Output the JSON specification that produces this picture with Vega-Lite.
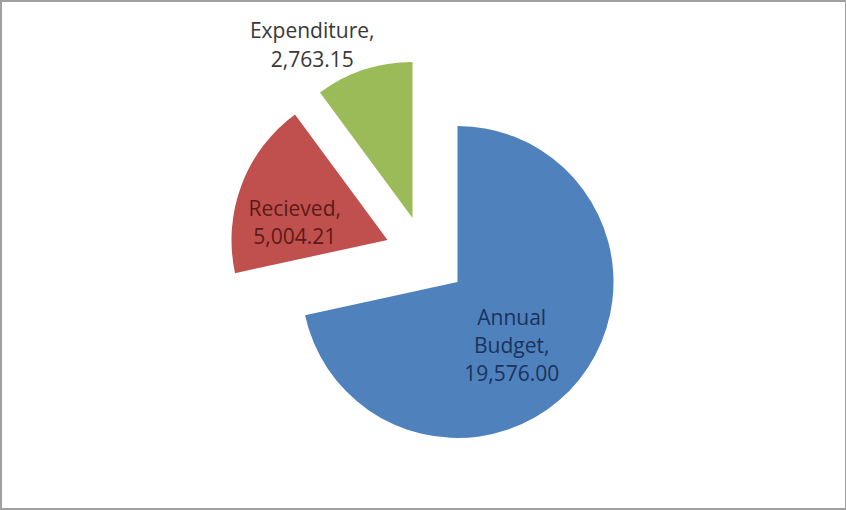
{
  "$schema": "https://vega.github.io/schema/vega-lite/v6.json",
  "width": 846,
  "height": 510,
  "autosize": {"type": "fit", "contains": "padding"},
  "padding": {"left": 1, "top": 1, "right": 0, "bottom": 1},
  "background": "white",
  "view": {"stroke": "#a0a0a0", "strokeWidth": 2},
  "data": {
    "values": [
      {"category": "Annual Budget", "value": 19576.00, "label": "Annual\nBudget,\n19,576.00"},
      {"category": "Recieved", "value": 5004.21, "label": "Recieved,\n5,004.21"},
      {"category": "Expenditure", "value": 2763.15, "label": "Expenditure,\n2,763.15"}
    ]
  },
  "encoding": {
    "theta": {"field": "value", "type": "quantitative", "stack": true},
    "order": {"field": "value", "type": "quantitative", "sort": "descending"}
  },
  "layer": [
    {
      "mark": {"type": "arc", "outerRadius": 156, "xOffset": 34, "yOffset": 27},
      "encoding": {
        "color": {"field": "category", "type": "nominal", "scale": {"domain": ["Annual Budget", "Recieved", "Expenditure"], "range": ["#4f81bd", "#c0504d", "#9bbb59"]}, "legend": null},
        "opacity": {"condition": {"test": "datum.category === 'Annual Budget'", "value": 1}, "value": 0}
      }
    },
    {
      "mark": {"type": "arc", "outerRadius": 156, "xOffset": -36, "yOffset": -15},
      "encoding": {
        "color": {"field": "category", "type": "nominal", "legend": null},
        "opacity": {"condition": {"test": "datum.category === 'Recieved'", "value": 1}, "value": 0}
      }
    },
    {
      "mark": {"type": "arc", "outerRadius": 156, "xOffset": -11, "yOffset": -37},
      "encoding": {
        "color": {"field": "category", "type": "nominal", "legend": null},
        "opacity": {"condition": {"test": "datum.category === 'Expenditure'", "value": 1}, "value": 0}
      }
    },
    {
      "mark": {"type": "text", "radius": 85, "xOffset": 34, "yOffset": 27, "dx": -12, "dy": -16, "lineBreak": "\n", "lineHeight": 28, "font": "Open Sans", "fontSize": 21, "fill": "#1a335c", "align": "center", "baseline": "middle"},
      "encoding": {
        "text": {"condition": {"test": "datum.category === 'Annual Budget'", "field": "label"}, "value": ""}
      }
    },
    {
      "mark": {"type": "text", "radius": 96, "xOffset": -36, "yOffset": -15, "dx": -3, "dy": 4, "lineBreak": "\n", "lineHeight": 28, "font": "Open Sans", "fontSize": 21, "fill": "#5c1a18", "align": "center", "baseline": "middle"},
      "encoding": {
        "text": {"condition": {"test": "datum.category === 'Recieved'", "field": "label"}, "value": ""}
      }
    },
    {
      "mark": {"type": "text", "radius": 190, "xOffset": -11, "yOffset": -37, "dx": -41, "dy": -5, "lineBreak": "\n", "lineHeight": 29, "font": "Open Sans", "fontSize": 21, "fill": "#383838", "align": "center", "baseline": "middle"},
      "encoding": {
        "text": {"condition": {"test": "datum.category === 'Expenditure'", "field": "label"}, "value": ""}
      }
    }
  ]
}
